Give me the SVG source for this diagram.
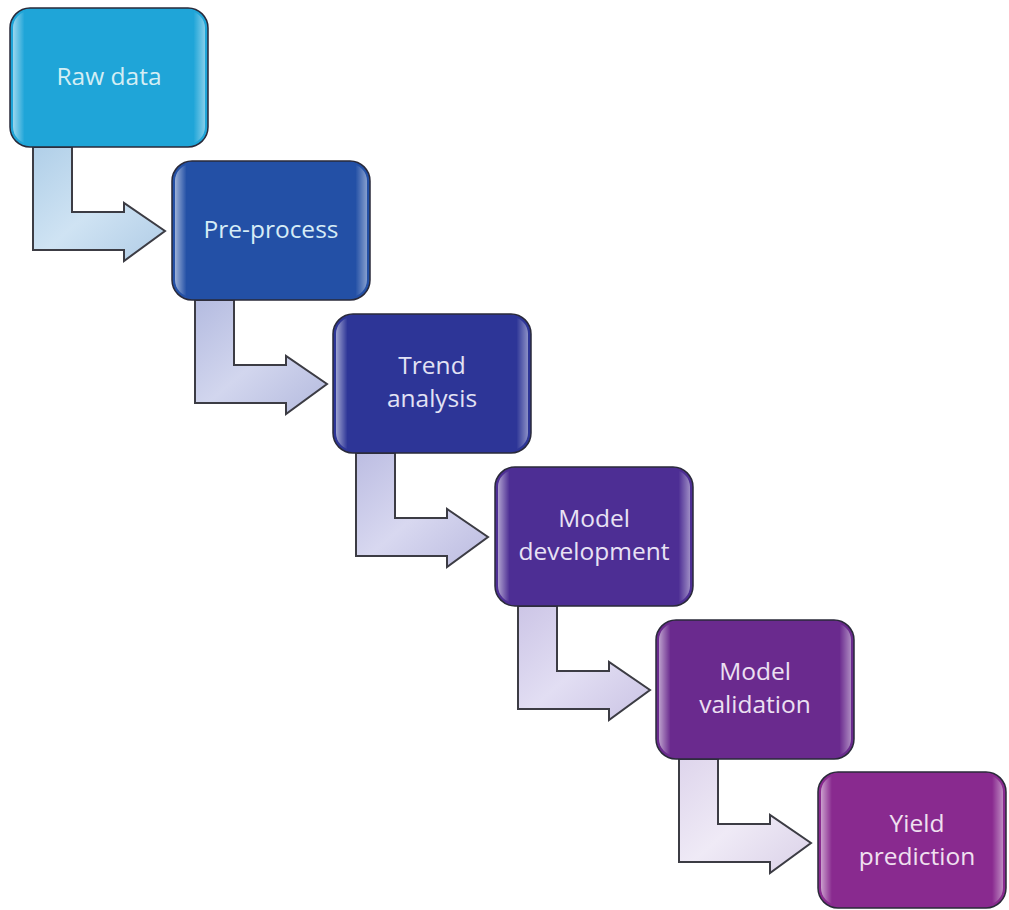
<svg xmlns="http://www.w3.org/2000/svg" width="1009" height="910" viewBox="0 0 1009 910">
<defs>
<linearGradient id="sheen" x1="0" y1="0" x2="1" y2="0">
<stop offset="0" stop-color="#ffffff" stop-opacity="0.55"/>
<stop offset="0.06" stop-color="#ffffff" stop-opacity="0"/>
<stop offset="0.94" stop-color="#ffffff" stop-opacity="0"/>
<stop offset="1" stop-color="#ffffff" stop-opacity="0.45"/>
</linearGradient>
<linearGradient id="a1" x1="0" y1="0" x2="1" y2="1"><stop offset="0" stop-color="#b0cfe8"/><stop offset="0.5" stop-color="#cfe3f3"/><stop offset="1" stop-color="#b0cce6"/></linearGradient>
<linearGradient id="a2" x1="0" y1="0" x2="1" y2="1"><stop offset="0" stop-color="#b4bbe0"/><stop offset="0.5" stop-color="#d2d6ee"/><stop offset="1" stop-color="#b4bade"/></linearGradient>
<linearGradient id="a3" x1="0" y1="0" x2="1" y2="1"><stop offset="0" stop-color="#bcbde2"/><stop offset="0.5" stop-color="#d8d8f0"/><stop offset="1" stop-color="#bbbbe0"/></linearGradient>
<linearGradient id="a4" x1="0" y1="0" x2="1" y2="1"><stop offset="0" stop-color="#ccc5e6"/><stop offset="0.5" stop-color="#e2def3"/><stop offset="1" stop-color="#cac3e4"/></linearGradient>
<linearGradient id="a5" x1="0" y1="0" x2="1" y2="1"><stop offset="0" stop-color="#ded5ec"/><stop offset="0.5" stop-color="#efeaf6"/><stop offset="1" stop-color="#dad1e8"/></linearGradient>
</defs>
<style>
.box{stroke:#2a2a3a;stroke-width:1.5}
.shine{fill:url(#sheen);stroke:none}
.arrow{stroke:#3c3c44;stroke-width:2;stroke-linejoin:miter}
.lbl{font-family:"Open Sans","Noto Sans","Liberation Sans",sans-serif;font-size:24.5px;text-anchor:middle}
</style>
<g id="connectors">
<path class="arrow" fill="url(#a1)" d="M33,147 L72,147 L72,212 L124,212 L124,203 L165,231 L124,261 L124,250 L33,250 Z"/>
<path class="arrow" fill="url(#a2)" d="M195,300 L234,300 L234,365 L286,365 L286,356 L327,384 L286,414 L286,403 L195,403 Z"/>
<path class="arrow" fill="url(#a3)" d="M356,453 L395,453 L395,518 L447,518 L447,509 L488,537 L447,567 L447,556 L356,556 Z"/>
<path class="arrow" fill="url(#a4)" d="M518,606 L557,606 L557,671 L609,671 L609,662 L650,690 L609,720 L609,709 L518,709 Z"/>
<path class="arrow" fill="url(#a5)" d="M679,759 L718,759 L718,824 L770,824 L770,815 L811,843 L770,873 L770,862 L679,862 Z"/>
</g>
<g id="raw-data" transform="translate(10,8)">
<rect class="box" width="198" height="139" rx="20" fill="#1fa5d8"/>
<rect class="shine" x="3" y="3" width="192" height="133" rx="17"/>
<text class="lbl" x="99" y="77" fill="#d4eef4">Raw data</text>
</g>
<g id="pre-process" transform="translate(172,161)">
<rect class="box" width="198" height="139" rx="20" fill="#2350a6"/>
<rect class="shine" x="3" y="3" width="192" height="133" rx="17"/>
<text class="lbl" x="99" y="77" fill="#d6ecf6">Pre-process</text>
</g>
<g id="trend-analysis" transform="translate(333,314)">
<rect class="box" width="198" height="139" rx="20" fill="#2d3597"/>
<rect class="shine" x="3" y="3" width="192" height="133" rx="17"/>
<text class="lbl" x="99" y="60" fill="#e2e2f4">Trend</text>
<text class="lbl" x="99" y="93" fill="#e2e2f4">analysis</text>
</g>
<g id="model-development" transform="translate(495,467)">
<rect class="box" width="198" height="139" rx="20" fill="#4d2e94"/>
<rect class="shine" x="3" y="3" width="192" height="133" rx="17"/>
<text class="lbl" x="99" y="60" fill="#e8e2f4">Model</text>
<text class="lbl" x="99" y="93" fill="#e8e2f4">development</text>
</g>
<g id="model-validation" transform="translate(656,620)">
<rect class="box" width="198" height="139" rx="20" fill="#6a2a8e"/>
<rect class="shine" x="3" y="3" width="192" height="133" rx="17"/>
<text class="lbl" x="99" y="60" fill="#ece0f2">Model</text>
<text class="lbl" x="99" y="93" fill="#ece0f2">validation</text>
</g>
<g id="yield-prediction" transform="translate(818,772)">
<rect class="box" width="188" height="136" rx="20" fill="#892a8f"/>
<rect class="shine" x="3" y="3" width="182" height="130" rx="17"/>
<text class="lbl" x="99" y="60" fill="#f0e0f0">Yield</text>
<text class="lbl" x="99" y="93" fill="#f0e0f0">prediction</text>
</g>
</svg>
